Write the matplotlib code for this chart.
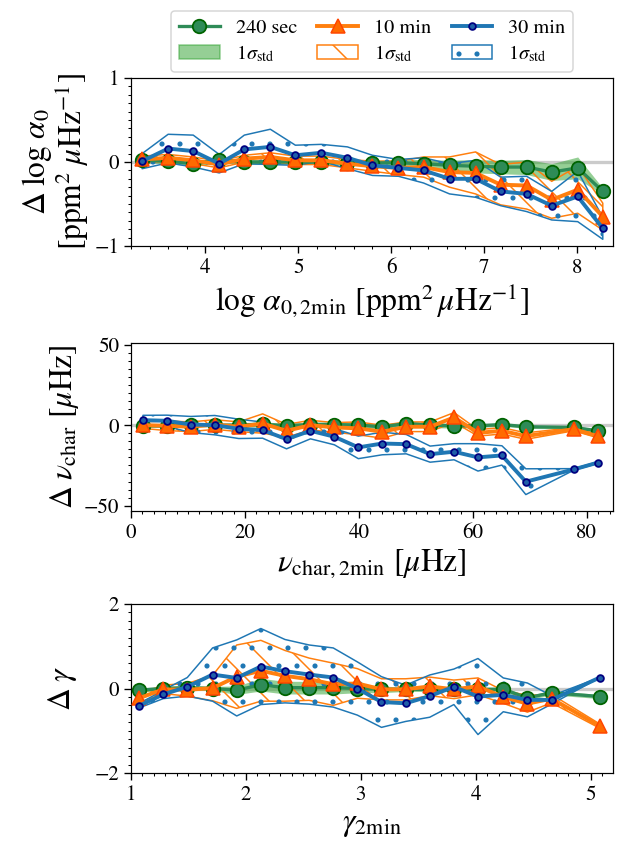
import numpy as np
import matplotlib
matplotlib.use("Agg")
import matplotlib.pyplot as plt
from matplotlib.ticker import MultipleLocator
from matplotlib.lines import Line2D
from matplotlib.patches import Patch

plt.rcParams['font.family'] = ['STIXGeneral', 'DejaVu Serif']
plt.rcParams['mathtext.fontset'] = 'stix'

# ---------------- data ----------------
# panel 1: log alpha0
x_a = [3.32, 3.60, 3.87, 4.15, 4.42, 4.70, 4.97, 5.25, 5.53, 5.80,
       6.08, 6.35, 6.63, 6.91, 7.18, 7.46, 7.73, 8.01, 8.28]
a_240 = [0.02, 0.01, -0.02, 0.02, 0.0, 0.0, 0.0, 0.0, -0.01, -0.01,
         -0.01, -0.02, -0.04, -0.05, -0.06, -0.06, -0.12, -0.07, -0.35]
a_240_s = [0.03, 0.03, 0.03, 0.03, 0.03, 0.03, 0.03, 0.03, 0.03, 0.03,
           0.04, 0.05, 0.06, 0.08, 0.08, 0.09, 0.10, 0.13, 0.04]
a_10 = [0.03, 0.05, 0.02, -0.03, 0.04, 0.06, 0.02, 0.02, -0.02, -0.05,
        -0.07, -0.06, -0.12, -0.13, -0.27, -0.28, -0.45, -0.33, -0.65]
a_10_s = [0.04, 0.04, 0.04, 0.04, 0.04, 0.05, 0.05, 0.05, 0.05, 0.06,
          0.08, 0.12, 0.18, 0.25, 0.24, 0.28, 0.22, 0.28, 0.16]
a_30 = [0.01, 0.16, 0.13, -0.02, 0.15, 0.18, 0.08, 0.11, 0.05, -0.04,
        -0.07, -0.10, -0.20, -0.20, -0.35, -0.38, -0.52, -0.41, -0.79]
a_30_s = [0.09, 0.17, 0.19, 0.11, 0.17, 0.21, 0.12, 0.10, 0.13, 0.12,
          0.10, 0.15, 0.18, 0.22, 0.17, 0.21, 0.17, 0.30, 0.13]

# panel 2: nu_char
x_n = [2.1, 6.3, 10.5, 14.7, 18.9, 23.1, 27.3, 31.5, 35.7, 39.9,
       44.1, 48.3, 52.5, 56.7, 60.9, 65.1, 69.3, 77.7, 81.9]
n_240 = [-0.4, -0.4, 0.0, 0.0, 0.0, 0.6, -0.4, 0.4, 0.4, 0.0,
         -1.0, 1.0, 0.0, -0.4, -0.4, 0.4, -1.0, -1.4, -3.5]
n_240_s = [1.0, 1.0, 1.0, 1.0, 1.5, 1.5, 1.5, 1.5, 1.5, 1.5,
           1.5, 1.5, 1.5, 1.5, 1.0, 1.0, 1.0, 1.0, 1.0]
n_10 = [0.0, -0.4, -1.0, 0.4, -1.0, 1.0, -3.5, 0.0, -1.4, -2.0,
        -4.1, -1.0, -1.0, 4.8, -4.8, -3.5, -6.8, -2.5, -6.8]
n_10_s = [2.0, 3.0, 3.0, 3.0, 3.0, 6.0, 4.0, 3.0, 3.0, 4.0,
          4.0, 3.0, 3.0, 3.0, 2.0, 2.0, 2.0, 1.0, 1.0]
n_30 = [3.1, 2.7, 0.4, 0.0, -2.3, -3.1, -8.7, -3.5, -7.2, -13.8,
        -11.4, -11.8, -18.0, -16.5, -20.0, -18.8, -35.1, -27.5, -23.3]
n_30_s = [3.0, 3.5, 5.0, 6.0, 6.0, 5.0, 6.0, 5.0, 5.0, 7.0,
          7.0, 6.0, 5.0, 5.0, 8.5, 6.0, 8.0, 0.5, 0.5]

# panel 3: gamma
x_g = [1.07, 1.28, 1.49, 1.71, 1.92, 2.13, 2.34, 2.55, 2.76, 2.97,
       3.18, 3.39, 3.60, 3.81, 4.02, 4.24, 4.45, 4.66, 5.08]
g_240 = [-0.04, 0.0, 0.02, 0.0, -0.04, 0.09, 0.02, 0.02, 0.02, 0.0,
         -0.02, -0.02, -0.02, -0.02, -0.02, -0.02, -0.22, -0.10, -0.19]
g_240_s = [0.05, 0.05, 0.05, 0.05, 0.10, 0.15, 0.15, 0.15, 0.15, 0.10,
           0.08, 0.05, 0.05, 0.05, 0.05, 0.05, 0.05, 0.05, 0.05]
g_10 = [-0.23, -0.02, -0.03, 0.01, 0.28, 0.42, 0.30, 0.22, 0.10, 0.12,
        -0.02, -0.02, 0.05, -0.02, 0.05, -0.20, -0.36, -0.24, -0.89]
g_10_s = [0.10, 0.10, 0.15, 0.30, 0.75, 0.72, 0.60, 0.50, 0.50, 0.35,
          0.25, 0.25, 0.22, 0.22, 0.20, 0.15, 0.20, 0.10, 0.05]
g_30 = [-0.41, -0.14, 0.04, 0.33, 0.25, 0.52, 0.41, 0.33, 0.26, 0.0,
        -0.32, -0.35, -0.18, 0.04, -0.19, -0.15, -0.27, -0.27, 0.26]
g_30_s = [0.05, 0.10, 0.22, 0.63, 0.90, 0.90, 0.75, 0.70, 0.70, 0.63,
          0.60, 0.43, 0.50, 0.42, 0.90, 0.40, 0.40, 0.10, 0.0]

labels = ['240 sec', '10 min', '30 min']

# ---------------- style ----------------
c_green_line = '#2e8b57'
c_green_face = '#2e8b57'
c_green_edge = '#006400'
c_orange_line = '#ff7f0e'
c_orange_face = '#ff6a00'
c_orange_edge = '#ff4500'
c_blue_line = '#1f77b4'
c_blue_face = '#1f5fa8'
c_blue_edge = '#000080'

DPI = 108
fig = plt.figure(figsize=(632 / DPI, 844 / DPI), dpi=DPI)

L, R = 131 / 632, 613 / 632
def axrect(top, bottom):
    return [L, 1 - bottom / 844, R - L, (bottom - top) / 844]

ax1 = fig.add_axes(axrect(78, 246))
ax2 = fig.add_axes(axrect(343, 511))
ax3 = fig.add_axes(axrect(604, 773))

def draw(ax, x, m240, s240, m10, s10, m30, s30):
    x = np.asarray(x)
    ax.axhline(0, color='0.6', alpha=0.5, lw=2.2, zorder=0.5)
    m240, s240 = np.asarray(m240), np.asarray(s240)
    m10, s10 = np.asarray(m10), np.asarray(s10)
    m30, s30 = np.asarray(m30), np.asarray(s30)
    ax.fill_between(x, m240 - s240, m240 + s240, color='tab:green', alpha=0.5,
                    lw=0, zorder=1)
    ax.fill_between(x, m10 - s10, m10 + s10, facecolor='none',
                    edgecolor=c_orange_line, hatch='\\', lw=1.0, zorder=1.1)
    ax.fill_between(x, m30 - s30, m30 + s30, facecolor='none',
                    edgecolor=c_blue_line, hatch='.', lw=1.0, zorder=1.2)
    ax.plot(x, m240, '-o', color=c_green_line, lw=2.2, ms=9,
            mfc=c_green_face, mec=c_green_edge, mew=1.2, zorder=3)
    ax.plot(x, m10, '-^', color=c_orange_line, lw=2.6, ms=9.5,
            mfc=c_orange_face, mec=c_orange_edge, mew=1.0, zorder=4)
    ax.plot(x, m30, '-o', color=c_blue_line, lw=2.6, ms=4.5,
            mfc=c_blue_face, mec=c_blue_edge, mew=1.2, zorder=5)

draw(ax1, x_a, a_240, a_240_s, a_10, a_10_s, a_30, a_30_s)
draw(ax2, x_n, n_240, n_240_s, n_10, n_10_s, n_30, n_30_s)
draw(ax3, x_g, g_240, g_240_s, g_10, g_10_s, g_30, g_30_s)

LAB = 21
TICK = 14

ax1.set_xlim(3.2, 8.39)
ax1.set_ylim(-1, 1)
ax1.xaxis.set_major_locator(MultipleLocator(1))
ax1.xaxis.set_minor_locator(MultipleLocator(0.2))
ax1.yaxis.set_major_locator(MultipleLocator(1))
ax1.yaxis.set_minor_locator(MultipleLocator(0.1))
ax1.set_xlabel(r'$\log\,\alpha_{0,\mathrm{2min}}$ [ppm$^2\,\mu$Hz$^{-1}$]', fontsize=LAB,
               labelpad=3)
ax1.set_ylabel('$\\Delta\\;\\log\\,\\alpha_0$\n[ppm$^2\\;\\mu$Hz$^{-1}$]', fontsize=LAB,
               linespacing=0.95, labelpad=2)

ax2.set_xlim(0, 84.6)
ax2.set_ylim(-53.3, 51)
ax2.xaxis.set_major_locator(MultipleLocator(20))
ax2.xaxis.set_minor_locator(MultipleLocator(2))
ax2.yaxis.set_major_locator(MultipleLocator(50))
ax2.yaxis.set_minor_locator(MultipleLocator(5))
ax2.set_xlabel(r'$\nu_{\mathrm{char,2min}}$ [$\mu$Hz]', fontsize=LAB, labelpad=3)
ax2.set_ylabel(r'$\Delta\;\nu_{\mathrm{char}}$ [$\mu$Hz]', fontsize=LAB, labelpad=2)

ax3.set_xlim(1, 5.195)
ax3.set_ylim(-2, 2)
ax3.xaxis.set_major_locator(MultipleLocator(1))
ax3.xaxis.set_minor_locator(MultipleLocator(0.1))
ax3.yaxis.set_major_locator(MultipleLocator(2))
ax3.yaxis.set_minor_locator(MultipleLocator(0.2))
ax3.set_xlabel(r'$\gamma_{\mathrm{2min}}$', fontsize=LAB, labelpad=3)
ax3.set_ylabel(r'$\Delta\;\gamma$', fontsize=LAB, labelpad=10)

for ax in (ax1, ax2, ax3):
    ax.tick_params(which='major', labelsize=TICK, length=4.5, width=0.9)
    ax.tick_params(which='minor', length=2.2, width=0.7)

# legend
h_lines = [
    Line2D([], [], color=c_green_line, lw=2.2, marker='o', ms=9,
           mfc=c_green_face, mec=c_green_edge, mew=1.2),
    Line2D([], [], color=c_orange_line, lw=2.6, marker='^', ms=9.5,
           mfc=c_orange_face, mec=c_orange_edge, mew=1.0),
    Line2D([], [], color=c_blue_line, lw=2.6, marker='o', ms=4.5,
           mfc=c_blue_face, mec=c_blue_edge, mew=1.2),
]
h_patch = [
    Patch(facecolor='tab:green', alpha=0.5, edgecolor='tab:green'),
    Patch(facecolor='none', edgecolor=c_orange_line, hatch='\\'),
    Patch(facecolor='none', edgecolor=c_blue_line, hatch='.'),
]
sig = r'1$\sigma_{\mathrm{std}}$'
handles = [h_lines[0], h_patch[0], h_lines[1], h_patch[1], h_lines[2], h_patch[2]]
texts = [labels[0], sig, labels[1], sig, labels[2], sig]
fig.legend(handles, texts, loc='upper center', bbox_to_anchor=(0.589, 0.999),
           ncol=3, fontsize=13.5, handlelength=2.0, columnspacing=1.0,
           handletextpad=0.8, borderpad=0.4, labelspacing=0.3)

fig.savefig('out.png', dpi=DPI)
